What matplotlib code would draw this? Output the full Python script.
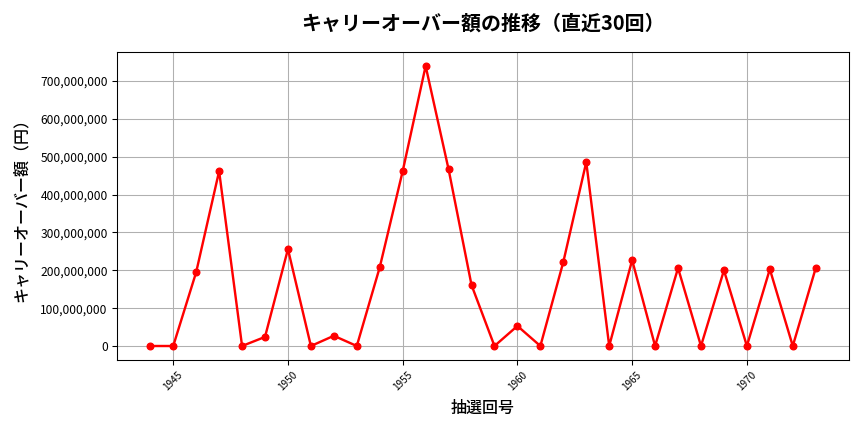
import matplotlib
matplotlib.use('agg')
import matplotlib.pyplot as plt
from matplotlib.ticker import FuncFormatter

plt.rcParams['font.family'] = ['Noto Sans CJK JP', 'DejaVu Sans']

draws = list(range(1944, 1974))
carryover = [0, 0, 195000000, 462000000, 0, 24000000, 256000000, 0, 27000000, 0,
             208000000, 462000000, 740000000, 467000000, 161000000, 0, 53000000, 0,
             222000000, 486000000, 0, 227000000, 0, 206000000, 0, 200000000, 0,
             203000000, 0, 206000000]

fig = plt.figure(figsize=(9, 4.5), dpi=96)
ax = fig.add_axes([117 / 864, 1 - 360 / 432, (849 - 117) / 864, (360 - 52) / 432])
ax.plot(draws, carryover, color='red', marker='o', markersize=5, linewidth=1.8)
ax.set_title('キャリーオーバー額の推移（直近30回）', fontsize=15, fontweight='bold', pad=17)
ax.set_xlabel('抽選回号', fontsize=12, fontweight='medium', labelpad=6)
ax.set_ylabel('キャリーオーバー額（円）', fontsize=12, fontweight='medium', labelpad=8)
ax.yaxis.set_major_formatter(FuncFormatter(lambda v, p: f'{int(v):,}'))
ax.tick_params(axis='x', labelrotation=45, labelsize=7.5)
ax.tick_params(axis='y', labelsize=9)
ax.grid(True, color='#b0b0b0', linewidth=0.8)

plt.savefig('out.png')
